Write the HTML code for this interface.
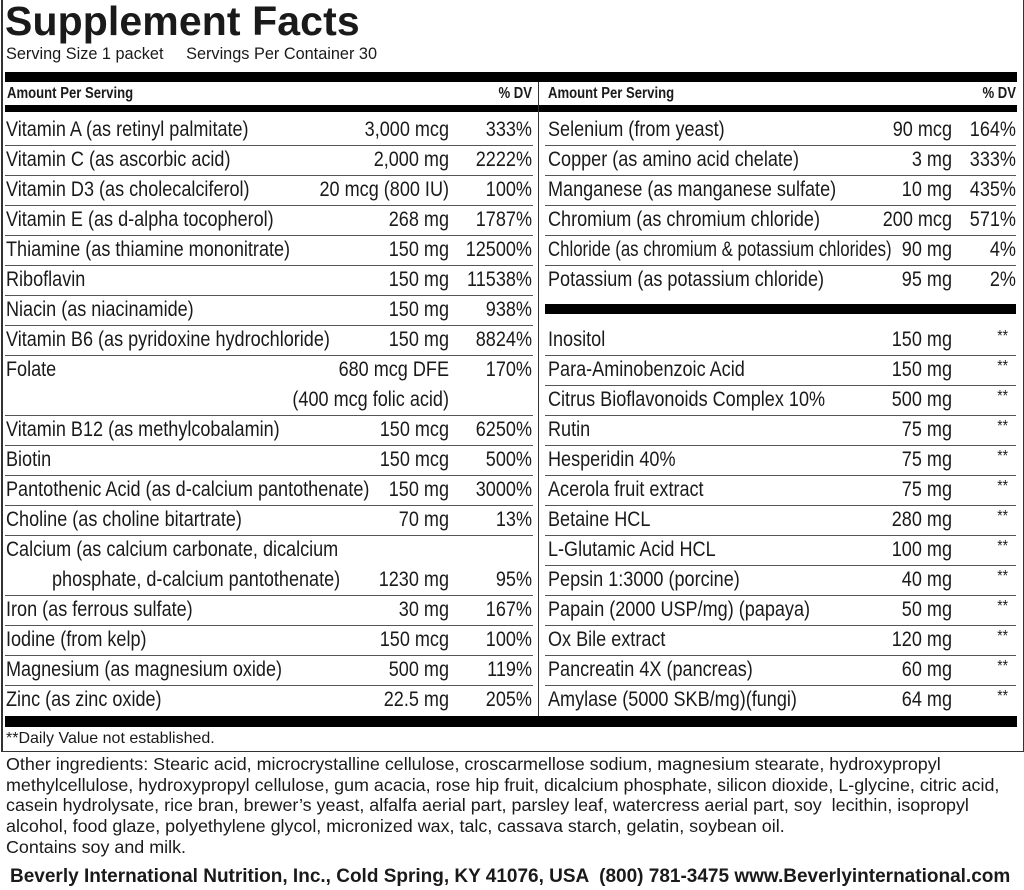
<!DOCTYPE html>
<html><head><meta charset="utf-8">
<style>
body{margin:0;width:1024px;height:890px;background:#fff;position:relative;overflow:hidden;color:#1a1a1a;font-family:"Liberation Sans",sans-serif}
.a{position:absolute;white-space:nowrap}
.n{font-size:21px;line-height:30px;height:30px;transform:scaleX(0.86);transform-origin:0 50%}
.bar{position:absolute;background:#000}
.ln{position:absolute;height:1px;background:#555}
.h{font-weight:bold;font-size:16px;line-height:22px;transform:scaleX(0.82);transform-origin:0 50%}
.r{text-align:right;transform-origin:100% 50%}
</style></head><body>
<div class="a" style="left:1px;top:0;width:1020px;height:751px;border:1px solid #333;border-top:none;border-left:2px solid #333"></div>
<div class="a" style="left:5px;top:-1px;font-size:41px;line-height:44px;font-weight:bold;letter-spacing:0.1px">Supplement Facts</div>
<div class="a" style="left:6px;top:45px;font-size:16.3px">Serving Size 1 packet &nbsp;&nbsp;&nbsp; Servings Per Container 30</div>
<div class="bar" style="left:5px;top:72px;width:1012px;height:10px"></div>
<div class="bar" style="left:5px;top:105px;width:1012px;height:7px"></div>
<div class="bar" style="left:5px;top:716px;width:1012px;height:11px"></div>
<div class="bar" style="left:545px;top:304px;width:471px;height:10px"></div>
<div class="a" style="left:538px;top:82px;width:1px;height:634px;background:#333"></div>
<div class="a h" style="left:7px;top:83px">Amount Per Serving</div>
<div class="a h r" style="left:440px;width:92px;top:83px">% DV</div>
<div class="a h" style="left:548px;top:83px">Amount Per Serving</div>
<div class="a h r" style="left:920px;width:96px;top:83px">% DV</div>
<div id="rows"></div>
<div class="a" style="left:6px;top:730px;font-size:16px">**Daily Value not established.</div>
<div class="a" style="left:6px;top:754px;font-size:17.9px;line-height:20.7px">Other ingredients: Stearic acid, microcrystalline cellulose, croscarmellose sodium, magnesium stearate, hydroxypropyl<br>methylcellulose, hydroxypropyl cellulose, gum acacia, rose hip fruit, dicalcium phosphate, silicon dioxide, L-glycine, citric acid,<br>casein hydrolysate, rice bran, brewer’s yeast, alfalfa aerial part, parsley leaf, watercress aerial part, soy &nbsp;lecithin, isopropyl<br>alcohol, food glaze, polyethylene glycol, micronized wax, talc, cassava starch, gelatin, soybean oil.<br>Contains soy and milk.</div>
<div class="a" style="left:10px;top:866px;font-size:19px;font-weight:bold">Beverly International Nutrition, Inc., Cold Spring, KY 41076, USA &nbsp;(800) 781-3475 www.Beverlyinternational.com</div>
<script>
var L=[["Vitamin A (as retinyl palmitate)","3,000 mcg","333%"],["Vitamin C (as ascorbic acid)","2,000 mg","2222%"],["Vitamin D3 (as cholecalciferol)","20 mcg (800 IU)","100%"],["Vitamin E (as d-alpha tocopherol)","268 mg","1787%"],["Thiamine (as thiamine mononitrate)","150 mg","12500%"],["Riboflavin","150 mg","11538%"],["Niacin (as niacinamide)","150 mg","938%"],["Vitamin B6 (as pyridoxine hydrochloride)","150 mg","8824%"],["Folate","680 mcg DFE","170%"],["","(400 mcg folic acid)",""],["Vitamin B12 (as methylcobalamin)","150 mcg","6250%"],["Biotin","150 mcg","500%"],["Pantothenic Acid (as d-calcium pantothenate)","150 mg","3000%"],["Choline (as choline bitartrate)","70 mg","13%"],["Calcium (as calcium carbonate, dicalcium","",""],["","1230 mg","95%"],["Iron (as ferrous sulfate)","30 mg","167%"],["Iodine (from kelp)","150 mcg","100%"],["Magnesium (as magnesium oxide)","500 mg","119%"],["Zinc (as zinc oxide)","22.5 mg","205%"]];
var R=[["Selenium (from yeast)","90 mcg","164%"],["Copper (as amino acid chelate)","3 mg","333%"],["Manganese (as manganese sulfate)","10 mg","435%"],["Chromium (as chromium chloride)","200 mcg","571%"],["Chloride (as chromium &amp; potassium chlorides)","90 mg","4%"],["Potassium (as potassium chloride)","95 mg","2%"],null,["Inositol","150 mg","**"],["Para-Aminobenzoic Acid","150 mg","**"],["Citrus Bioflavonoids Complex 10%","500 mg","**"],["Rutin","75 mg","**"],["Hesperidin 40%","75 mg","**"],["Acerola fruit extract","75 mg","**"],["Betaine HCL","280 mg","**"],["L-Glutamic Acid HCL","100 mg","**"],["Pepsin 1:3000 (porcine)","40 mg","**"],["Papain (2000 USP/mg) (papaya)","50 mg","**"],["Ox Bile extract","120 mg","**"],["Pancreatin 4X (pancreas)","60 mg","**"],["Amylase (5000 SKB/mg)(fungi)","64 mg","**"]];
var h="";
function st(v){return v=="**"?"font-size:16px;line-height:24px;":"";}
L.forEach(function(r,i){var t=115+30*i;
h+='<div class="a n" style="left:6px;top:'+t+'px">'+r[0]+'</div>';
h+='<div class="a n r" style="left:200px;width:249px;top:'+t+'px">'+r[1]+'</div>';
h+='<div class="a n r" style="left:450px;width:82px;top:'+t+'px">'+r[2]+'</div>';
if(i<19&&i!=8&&i!=14)h+='<div class="ln" style="left:5px;width:528px;top:'+(145+30*i)+'px"></div>';});
h+='<div class="a n" style="left:52px;top:565px">phosphate, d-calcium pantothenate)</div>';
R.forEach(function(r,i){if(!r)return;var t=115+30*i;
h+='<div class="a n" style="left:548px;top:'+t+'px;'+(i==4?'transform:scaleX(0.8)':'')+'">'+r[0]+'</div>';
h+='<div class="a n r" style="left:800px;width:152px;top:'+t+'px">'+r[1]+'</div>';
h+='<div class="a n r" style="left:950px;width:'+(r[2]=="**"?58:66)+'px;top:'+t+'px;'+st(r[2])+'">'+r[2]+'</div>';
if(i<19&&i!=5&&i!=6)h+='<div class="ln" style="left:545px;width:471px;top:'+(145+30*i)+'px"></div>';});
document.getElementById("rows").innerHTML=h;
</script>
</body></html>
